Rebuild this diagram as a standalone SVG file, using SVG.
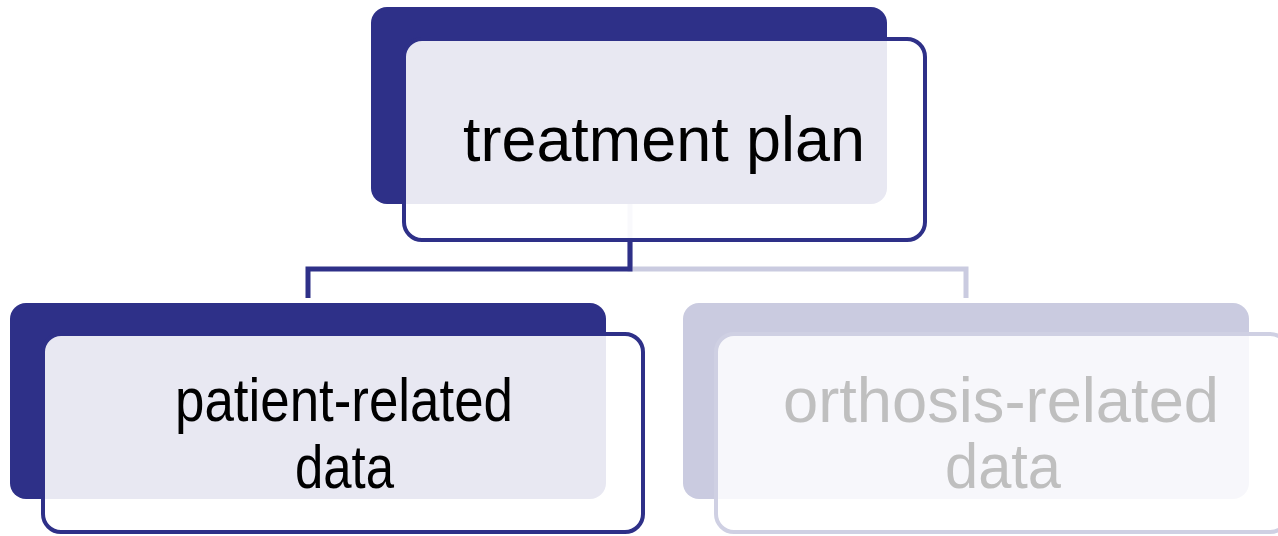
<svg xmlns="http://www.w3.org/2000/svg" width="1278" height="536" viewBox="0 0 1278 536">
  <style>
    .back-dark { fill: #2E3088; }
    .back-light { fill: #CACBE0; }
    .front-dark { fill: #FFFFFF; fill-opacity: 0.89; stroke: #2E3088; stroke-width: 4; }
    .front-light { fill: #FFFFFF; fill-opacity: 0.85; stroke: #CFD0E3; stroke-width: 4; }
    .label { font-family: "Liberation Sans", Arial, sans-serif; }
    .label-dark { fill: #000000; }
    .label-light { fill: #BFBFBF; }
    .conn { fill: none; stroke-width: 5; stroke-linejoin: miter; }
    .conn-dark { stroke: #2E3088; }
    .conn-light { stroke: #CACBE0; }
  </style>

  <!-- back plates -->
  <rect class="back-dark" x="371" y="7" width="516" height="197" rx="16"/>
  <rect class="back-dark" x="10" y="303" width="596" height="196" rx="16"/>
  <rect class="back-light" x="683" y="303" width="566" height="196" rx="16"/>

  <!-- connectors -->
  <g id="connectors">
    <path class="conn conn-light" d="M630 204 V269 H966 V298"/>
    <path class="conn conn-dark" d="M630 240 V269 H308 V298"/>
  </g>

  <!-- treatment plan -->
  <g id="node-treatment-plan">
    <rect class="front-dark" x="404" y="39" width="521" height="201" rx="18"/>
    <text class="label label-dark" x="463" y="161" font-size="63" textLength="402" lengthAdjust="spacingAndGlyphs">treatment plan</text>
  </g>

  <!-- patient-related data -->
  <g id="node-patient-data">
    <rect class="front-dark" x="43" y="334" width="600" height="198" rx="18"/>
    <text class="label label-dark" font-size="61">
      <tspan x="175" y="421" textLength="338" lengthAdjust="spacingAndGlyphs">patient-related</tspan>
      <tspan x="295" y="488" textLength="99" lengthAdjust="spacingAndGlyphs">data</tspan>
    </text>
  </g>

  <!-- orthosis-related data -->
  <g id="node-orthosis-data">
    <rect class="front-light" x="716" y="334" width="572" height="198" rx="18"/>
    <text class="label label-light" font-size="63">
      <tspan x="783" y="422" textLength="436" lengthAdjust="spacingAndGlyphs">orthosis-related</tspan>
      <tspan x="945" y="488" textLength="116" lengthAdjust="spacingAndGlyphs">data</tspan>
    </text>
  </g>
</svg>
